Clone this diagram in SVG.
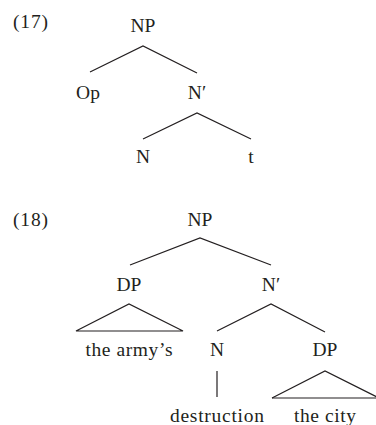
<svg xmlns="http://www.w3.org/2000/svg" width="376" height="425" viewBox="0 0 376 425">
<style>
text{font-family:"Liberation Serif","Times New Roman",serif;font-size:19.5px;fill:#231f20;text-anchor:middle}
text.num{text-anchor:start}
.e{stroke:#231f20;stroke-width:1.2;fill:none}
</style>
<rect width="376" height="425" fill="#fff"/>
<text class="num" x="13" y="28" textLength="35" lengthAdjust="spacing">(17)</text>
<g id="t17-NP"><text x="143" y="32">NP</text></g>
<g id="t17-Op"><text x="88" y="99">Op</text></g>
<g id="t17-Nbar"><text x="197" y="99">N′</text></g>
<g id="t17-N"><text x="143" y="163">N</text></g>
<g id="t17-t"><text x="251" y="163">t</text></g>
<text class="num" x="13" y="226" textLength="35" lengthAdjust="spacing">(18)</text>
<g id="t18-NP"><text x="200" y="226">NP</text></g>
<g id="t18-DP1"><text x="129" y="291">DP</text></g>
<g id="t18-Nbar"><text x="271" y="291">N′</text></g>
<g id="t18-army"><text x="129" y="356" textLength="87" lengthAdjust="spacing">the army’s</text></g>
<g id="t18-N"><text x="217" y="356">N</text></g>
<g id="t18-DP2"><text x="325" y="356">DP</text></g>
<g id="t18-destruction"><text x="217" y="422" textLength="94" lengthAdjust="spacing">destruction</text></g>
<g id="t18-city"><text x="325" y="422" textLength="62" lengthAdjust="spacing">the city</text></g>
<g id="connectors">
<path class="e" d="M90 72L143 46L197 73"/>
<path class="e" d="M143 139L197 113L251 139"/>
<path class="e" d="M130 265L200 238L271 265"/>
<path class="e" d="M217 331L271 304L325 332"/>
<path class="e" d="M76 331L129 304L183 331Z"/>
<path class="e" d="M217 371V397"/>
<path class="e" d="M272 398L325 371L377 397"/>
<path class="e" d="M272 398H377"/>
</g>
</svg>
